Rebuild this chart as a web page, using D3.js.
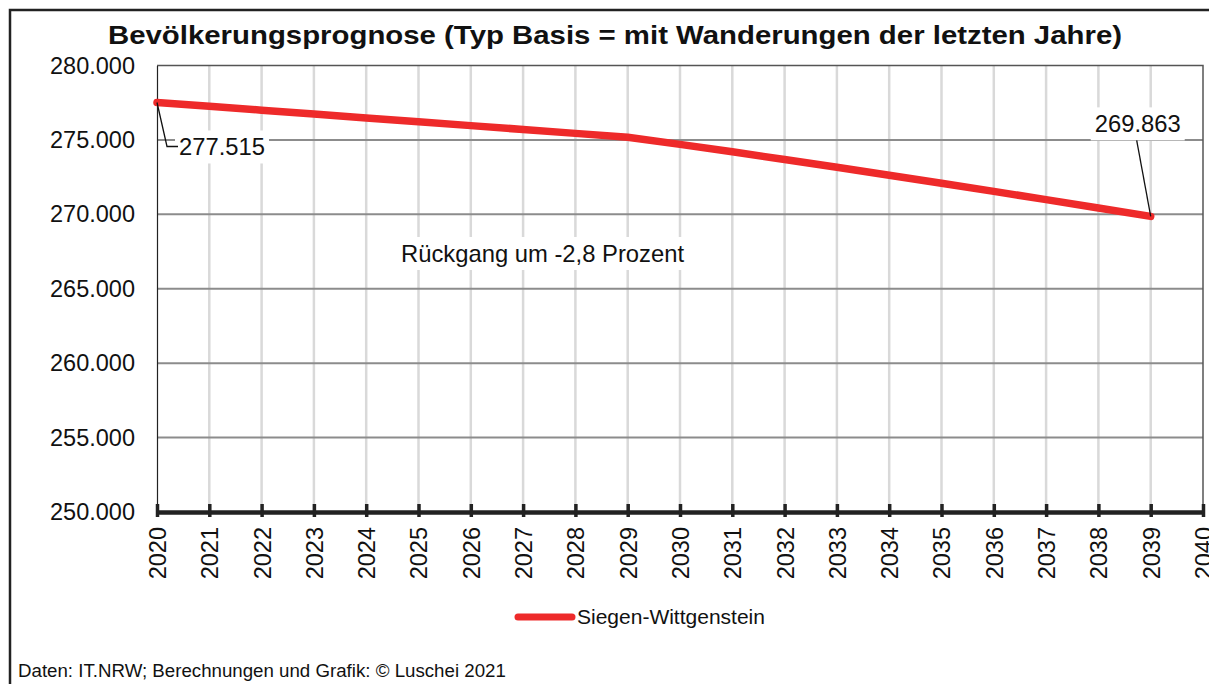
<!DOCTYPE html>
<html>
<head>
<meta charset="utf-8">
<script src="https://cdn.jsdelivr.net/npm/d3@7"></script>
<style>
  body { margin: 0; background: #fff; }
  svg text { font-family: "Liberation Sans", Arial, sans-serif; fill: #111; }
</style>
</head>
<body>
<div id="chart"></div>
<script>
// data
var years = [2020, 2021, 2022, 2023, 2024, 2025, 2026, 2027, 2028, 2029,
             2030, 2031, 2032, 2033, 2034, 2035, 2036, 2037, 2038, 2039];
var population = [277515, 277260, 277000, 276740, 276480, 276220, 275960, 275700, 275440, 275180,
                  274700, 274200, 273680, 273160, 272630, 272090, 271540, 270990, 270430, 269863];
var yTicks = [250000, 255000, 260000, 265000, 270000, 275000, 280000];
var xTicks = d3.range(2020, 2041);
var seriesName = "Siegen-Wittgenstein";
var title = "Bevölkerungsprognose (Typ Basis = mit Wanderungen der letzten Jahre)";
var note = "Rückgang um -2,8 Prozent";
var source = "Daten: IT.NRW; Berechnungen und Grafik: © Luschei 2021";

var width = 1209, height = 684;
var red = "#ee2a2a";

var de = d3.formatLocale({decimal: ",", thousands: ".", grouping: [3], currency: ["", "€"]});
var fmt = de.format(",");

var svg = d3.select("#chart").append("svg")
    .attr("width", width)
    .attr("height", height);

var x = d3.scaleLinear().domain([2020, 2040]).range([157, 1203]);
var y = d3.scaleLinear().domain([250000, 280000]).range([512, 65.5]);

// outer frame (only left and top visible)
svg.append("path")
    .attr("d", "M10," + height + " L10,10 L" + width + ",10")
    .attr("fill", "none")
    .attr("stroke", "#222")
    .attr("stroke-width", 2.5);

// title - stretched a bit like the original
svg.append("text")
    .attr("x", 615)
    .attr("y", 44)
    .attr("text-anchor", "middle")
    .attr("textLength", 1014)
    .attr("lengthAdjust", "spacingAndGlyphs")
    .style("font-size", "26px")
    .style("font-weight", "bold")
    .text(title);

// vertical grid
svg.append("g").selectAll("line")
    .data(xTicks.slice(1, -1))
    .enter().append("line")
    .attr("x1", function(d) { return x(d); })
    .attr("x2", function(d) { return x(d); })
    .attr("y1", y(280000))
    .attr("y2", y(250000))
    .attr("stroke", "#d9d9d9")
    .attr("stroke-width", 2.5);

// horizontal grid
svg.append("g").selectAll("line")
    .data(yTicks.slice(1, -1))
    .enter().append("line")
    .attr("x1", x(2020))
    .attr("x2", x(2040))
    .attr("y1", function(d) { return y(d); })
    .attr("y2", function(d) { return y(d); })
    .attr("stroke", "#8c8c8c")
    .attr("stroke-width", 2);

// plot border top / right
svg.append("path")
    .attr("d", "M" + x(2020) + "," + y(280000) + " L" + x(2040) + "," + y(280000) + " L" + x(2040) + "," + y(250000))
    .attr("fill", "none")
    .attr("stroke", "#555")
    .attr("stroke-width", 1.5);

// y axis
var yAxis = d3.axisLeft(y).tickValues(yTicks).tickFormat(fmt).tickSize(0).tickPadding(22);
var gy = svg.append("g")
    .attr("transform", "translate(" + x(2020) + ",0)")
    .call(yAxis);
gy.select(".domain").attr("stroke", "#222").attr("stroke-width", 1.2);
gy.selectAll("text")
    .style("font-size", "23.5px")
    .style("font-family", "'Liberation Sans', Arial, sans-serif")
    .attr("fill", "#111");

// x axis
var xAxis = d3.axisBottom(x).tickValues(xTicks).tickFormat(d3.format("d")).tickSize(0);
var gx = svg.append("g")
    .attr("transform", "translate(0," + y(250000) + ")")
    .call(xAxis);
gx.select(".domain").attr("stroke", "#222").attr("stroke-width", 4.5);
gx.selectAll(".tick").append("line")
    .attr("y1", -8)
    .attr("y2", 5)
    .attr("stroke", "#222")
    .attr("stroke-width", 3.5);
gx.selectAll("text")
    .attr("transform", "rotate(-90)")
    .attr("x", -15)
    .attr("y", 0)
    .attr("dy", "0.36em")
    .attr("text-anchor", "end")
    .style("font-size", "23.5px")
    .style("font-family", "'Liberation Sans', Arial, sans-serif")
    .attr("fill", "#111");

// line
var line = d3.line()
    .x(function(d, i) { return x(years[i]); })
    .y(function(d) { return y(d); });

svg.append("path")
    .datum(population)
    .attr("d", line)
    .attr("fill", "none")
    .attr("stroke", red)
    .attr("stroke-width", 7.5)
    .attr("stroke-linejoin", "round")
    .attr("stroke-linecap", "round");

// text with white box behind
function boxedText(px, py, str, size) {
    var g = svg.append("g");
    var r = g.append("rect").attr("fill", "#fff");
    var t = g.append("text")
        .attr("x", px)
        .attr("y", py)
        .style("font-size", size + "px")
        .text(str);
    var b = t.node().getBBox();
    r.attr("x", b.x - 4).attr("y", b.y - 3).attr("width", b.width + 8).attr("height", b.height + 6);
    return t;
}

// data labels
var first = 0, last = population.length - 1;
var fx = x(years[first]), fy = y(population[first]);
boxedText(fx + 22, fy + 53, fmt(population[first]), 23.8);
svg.append("path")
    .attr("d", "M" + fx + "," + fy + " L" + (fx + 10) + "," + (fy + 44) + " L" + (fx + 21) + "," + (fy + 44))
    .attr("fill", "none")
    .attr("stroke", "#111")
    .attr("stroke-width", 1.3);

var lx = x(years[last]), ly = y(population[last]);
boxedText(lx - 56, ly - 84, fmt(population[last]), 23.8);
svg.append("line")
    .attr("x1", lx - 14)
    .attr("y1", ly - 76)
    .attr("x2", lx)
    .attr("y2", ly)
    .attr("stroke", "#111")
    .attr("stroke-width", 1.3);

// note
boxedText(401, 262, note, 23.8);

// legend
svg.append("line")
    .attr("x1", 518)
    .attr("x2", 572)
    .attr("y1", 617)
    .attr("y2", 617)
    .attr("stroke", red)
    .attr("stroke-width", 7)
    .attr("stroke-linecap", "round");
svg.append("text")
    .attr("x", 577)
    .attr("y", 624)
    .style("font-size", "21px")
    .text(seriesName);

// source
svg.append("text")
    .attr("x", 18)
    .attr("y", 677)
    .style("font-size", "18.7px")
    .text(source);
</script>
</body>
</html>
